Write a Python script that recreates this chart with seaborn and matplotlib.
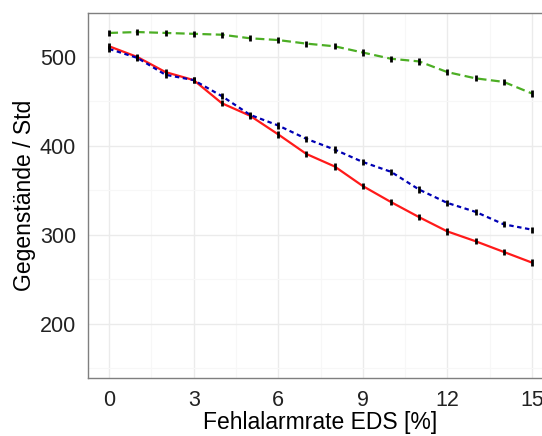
import matplotlib
matplotlib.use("Agg")
import matplotlib.pyplot as plt
import numpy as np
import pandas as pd
import seaborn as sns

rate = list(range(16))
rot = [512, 500, 483, 474, 448, 434, 413, 391, 377, 355, 337, 320, 304, 293, 281, 269]
blau = [509, 499, 480, 474, 456, 435, 423, 408, 396, 382, 371, 351, 336, 326, 312, 306]
gruen = [527, 528, 527, 526, 525, 521, 519, 515, 512, 505, 498, 495, 483, 476, 472, 459]
fehler = 3.5

series_names = ["rot", "blau", "gruen"]
series_values = [rot, blau, gruen]
colors = {"rot": "#ff1a1a", "blau": "#0000b4", "gruen": "#4cae24"}
dashes = {"rot": "", "blau": (2, 1.6), "gruen": (4, 2)}

df = pd.DataFrame({
    "rate": rate * 3,
    "wert": rot + blau + gruen,
    "serie": np.repeat(series_names, len(rate)),
})

sns.set_style("white")
plt.rcParams["font.family"] = ["Liberation Sans", "DejaVu Sans"]

fig = plt.figure(figsize=(5.42, 4.36), dpi=100)
ax = fig.add_axes([88 / 542, 58 / 436, 465 / 542, 365 / 436])

# grid like ggplot theme_bw
ax.set_xticks([0, 3, 6, 9, 12, 15])
ax.set_yticks([200, 300, 400, 500])
ax.set_xticks(np.arange(1.5, 15, 3), minor=True)
ax.set_yticks([150, 250, 350, 450, 550], minor=True)
ax.grid(True, which="major", color="#ebebeb", linewidth=1.0)
ax.grid(True, which="minor", color="#f7f7f7", linewidth=0.8)
ax.set_axisbelow(True)

sns.lineplot(data=df, x="rate", y="wert", hue="serie", style="serie",
             palette=colors, dashes=dashes, linewidth=1.6, legend=False,
             ax=ax, zorder=2)

for name, vals in zip(series_names, series_values):
    ax.errorbar(rate, vals, yerr=fehler, fmt="none", ecolor="black",
                elinewidth=2.0, capsize=0, zorder=3)

ax.set_xlim(-0.75, 15.75)
ax.set_ylim(139.3, 549.4)

for s in ax.spines.values():
    s.set_color("#7f7f7f")
    s.set_linewidth(1.0)

ax.tick_params(axis="both", which="major", length=5.5, width=1.0, color="#333333",
               labelsize=15.5, labelcolor="#222222", pad=3)
ax.tick_params(axis="both", which="minor", length=0)

ax.set_xlabel("Fehlalarmrate EDS [%]", fontsize=16.5, color="black", labelpad=0)
ax.set_ylabel("Gegenstände / Std", fontsize=16.5, color="black", labelpad=3)

fig.savefig("out.png", dpi=100)
